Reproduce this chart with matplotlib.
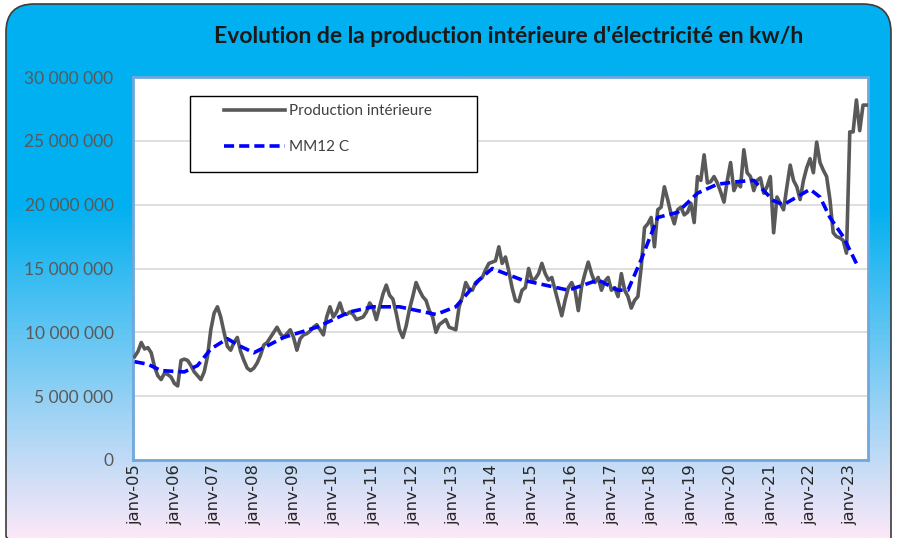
import numpy as np
import matplotlib
matplotlib.use("Agg")
import matplotlib.pyplot as plt
from matplotlib.patches import FancyBboxPatch, Rectangle
from matplotlib.ticker import FuncFormatter

# --- Data (millions of kWh, monthly from janv-05) ---
prod_2005 = [8.1, 8.5, 9.2, 8.7, 8.8, 8.4, 7.3, 6.6, 6.3, 6.8, 6.7, 6.5]
prod_2006 = [6.0, 5.8, 7.8, 7.9, 7.8, 7.4, 6.9, 6.6, 6.3, 6.9, 8.1, 10.2]
prod_2007 = [11.5, 12.0, 11.2, 10.0, 8.9, 8.6, 9.2, 9.6, 8.5, 7.8, 7.2, 7.0]
prod_2008 = [7.2, 7.6, 8.2, 9.0, 9.2, 9.6, 10.0, 10.4, 9.9, 9.6, 9.9, 10.2]
prod_2009 = [9.6, 8.6, 9.5, 9.8, 9.9, 10.1, 10.4, 10.6, 10.2, 9.8, 11.2, 12.0]
prod_2010 = [11.2, 11.6, 12.3, 11.5, 11.4, 11.6, 11.4, 11.0, 11.1, 11.2, 11.6, 12.3]
prod_2011 = [11.9, 11.0, 12.0, 13.0, 13.7, 12.9, 12.6, 11.5, 10.2, 9.6, 10.5, 11.8]
prod_2012 = [12.8, 13.9, 13.3, 12.8, 12.5, 11.7, 11.2, 10.0, 10.6, 10.8, 11.0, 10.4]
prod_2013 = [10.3, 10.2, 12.0, 12.8, 13.9, 13.4, 13.3, 13.9, 14.1, 14.3, 14.9, 15.4]
prod_2014 = [15.5, 15.6, 16.7, 15.4, 15.9, 14.8, 13.5, 12.5, 12.4, 13.3, 13.5, 15.0]
prod_2015 = [14.1, 14.2, 14.6, 15.4, 14.6, 14.1, 14.3, 13.3, 12.3, 11.3, 12.5, 13.5]
prod_2016 = [13.9, 13.3, 11.7, 13.6, 14.6, 15.5, 14.6, 13.9, 14.3, 13.3, 14.0, 14.3]
prod_2017 = [13.3, 13.5, 12.8, 14.6, 13.3, 12.8, 11.9, 12.5, 12.8, 15.1, 18.2, 18.5]
prod_2018 = [19.0, 16.7, 19.6, 19.8, 21.4, 20.4, 19.3, 18.5, 19.6, 19.8, 19.2, 19.4]
prod_2019 = [20.1, 18.6, 22.2, 21.9, 23.9, 21.7, 21.8, 22.2, 21.7, 21.0, 20.2, 21.9]
prod_2020 = [23.3, 21.1, 21.7, 21.4, 24.3, 22.5, 22.2, 21.1, 21.9, 22.1, 20.9, 21.4]
prod_2021 = [22.2, 17.8, 20.6, 20.1, 19.6, 21.4, 23.1, 21.9, 21.4, 20.4, 21.9, 22.9]
prod_2022 = [23.6, 22.5, 24.9, 23.3, 22.7, 22.2, 20.4, 17.8, 17.5, 17.4, 17.2, 16.2]
prod_2023 = [25.7, 25.7, 28.2, 25.8, 27.8, 27.8]

production = (prod_2005 + prod_2006 + prod_2007 + prod_2008 + prod_2009 + prod_2010
              + prod_2011 + prod_2012 + prod_2013 + prod_2014 + prod_2015 + prod_2016
              + prod_2017 + prod_2018 + prod_2019 + prod_2020 + prod_2021 + prod_2022
              + prod_2023)

# MM12 C read at these month indices (0 = janv-05)
ma_month = [0, 4, 8, 15, 19, 23, 28, 32, 36, 45, 55, 65, 72, 80, 91, 97, 104, 108,
            117, 131, 140, 146, 149, 153, 158, 164, 170, 176, 182, 187, 193, 196,
            204, 207, 210, 214, 218]
ma_value = [7.7, 7.5, 7.0, 6.9, 7.4, 8.7, 9.5, 8.9, 8.4, 9.6, 10.4, 11.6, 12.0, 12.0,
            11.4, 12.0, 14.1, 15.0, 14.1, 13.3, 14.1, 13.3, 13.3, 15.7, 19.0, 19.4,
            20.9, 21.6, 21.8, 21.9, 20.3, 20.0, 21.2, 20.6, 19.0, 17.5, 15.4]

years = ["05", "06", "07", "08", "09", "10", "11", "12", "13", "14", "15", "16",
         "17", "18", "19", "20", "21", "22", "23"]
tick_labels = ["janv-" + y for y in years]

title = "Evolution de la production intérieure d'électricité en kw/h"

# --- Figure & gradient background ---
W, H = 897, 538
fig = plt.figure(figsize=(W / 100, H / 100), dpi=100)
fig.patch.set_facecolor("white")

bg = fig.add_axes([0, 0, 1, 1], zorder=0)
bg.set_xlim(0, W)
bg.set_ylim(H, 0)
bg.axis("off")
top = np.array([0, 176, 240]) / 255
bottom = np.array([252, 232, 248]) / 255
t = np.linspace(0, 1, 300)
f = np.clip((t - 0.38) / 0.62, 0, 1)
grad = (top[None, :] * (1 - f[:, None]) + bottom[None, :] * f[:, None])[:, None, :]
im = bg.imshow(grad, extent=[0, W, H, 0], aspect="auto", zorder=0)
frame = FancyBboxPatch((6, 4), 885, 560, boxstyle="round,pad=0,rounding_size=28",
                       fc="none", ec="#3c3c3c", lw=1.2, zorder=1)
bg.add_patch(frame)
im.set_clip_path(frame)

fig.text(509 / W, 1 - 37 / H, title, ha="center", va="center",
         fontsize=16.5, fontweight="bold", family="Lato", color="#1a1a1a")

# --- Plot area ---
ax = fig.add_axes([133 / W, 1 - 460 / H, 735 / W, 383 / H], zorder=2)
ax.set_facecolor("white")

x_prod = np.arange(len(production))
ax.plot(x_prod, np.array(production) * 1e6, color="#595959", lw=2.6,
        solid_joinstyle="round", label="Production intérieure", zorder=3)
ax.plot(ma_month, np.array(ma_value) * 1e6, color="#0000FF", lw=2.6,
        linestyle=(0, (2.8, 1.4)), label="MM12 C", zorder=3)

ax.set_xlim(-0.5, len(production) - 0.5)
ax.set_ylim(0, 30e6)
ax.set_yticks(np.arange(0, 30e6 + 1, 5e6))
ax.yaxis.set_major_formatter(FuncFormatter(lambda v, p: f"{int(v):,}".replace(",", " ")))
ax.set_xticks(np.arange(0, 12 * len(tick_labels), 12))
ax.set_xticklabels(tick_labels, rotation=90, fontsize=11.8, color="#262626")
ax.tick_params(axis="y", length=0, pad=14, labelsize=12.5, labelcolor="#595959")
ax.tick_params(axis="x", length=0, pad=3)
for lab in ax.get_yticklabels():
    lab.set_family("Lato")
ax.grid(axis="y", color="#d9d9d9", lw=1.2)
ax.set_axisbelow(True)
for s in ax.spines.values():
    s.set_color("#6fa8dc")
    s.set_linewidth(2)

# legend box
ax.add_patch(Rectangle((190 / W, 1 - 172 / H), 287 / W, 76 / H, transform=fig.transFigure,
                       fc="white", ec="black", lw=1, zorder=4))
leg = ax.legend(loc="upper left", bbox_to_anchor=(224 / W, 1 - 104 / H),
                bbox_transform=fig.transFigure, frameon=False, borderpad=0,
                borderaxespad=0, handlelength=4.0, handletextpad=0.25,
                labelspacing=1.45, prop={"family": "Lato", "size": 11})
for txt in leg.get_texts():
    txt.set_color("#404040")
leg.set_zorder(5)

fig.savefig("out.png", dpi=100)
